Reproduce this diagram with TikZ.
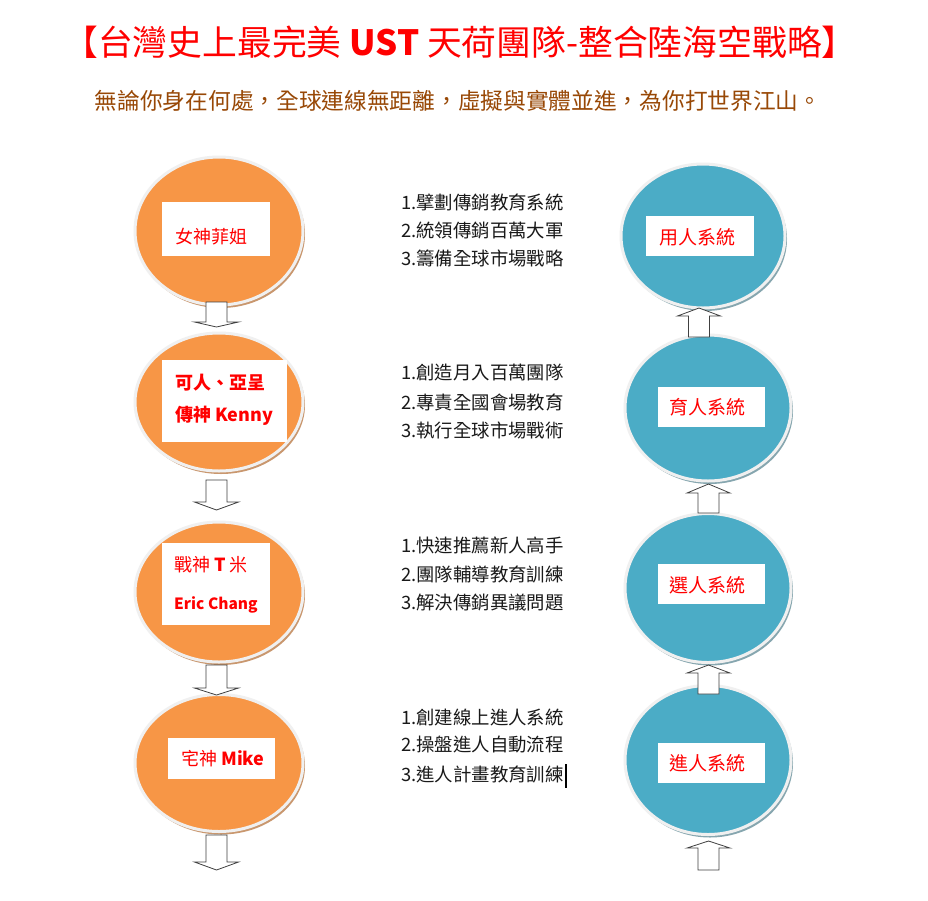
\documentclass[tikz,border=0pt]{standalone}
\usepackage{fontspec}
\setmainfont{Noto Sans CJK TC}
\usetikzlibrary{shapes.geometric,shadows}
\definecolor{orng}{HTML}{F79646}
\definecolor{blu}{HTML}{4BACC6}
\definecolor{oshadow}{HTML}{C9976E}
\definecolor{bshadow}{HTML}{86A6AF}
\definecolor{rim}{HTML}{F0F0F0}
\definecolor{brn}{HTML}{984806}
\definecolor{ttlred}{HTML}{FF0000}
\definecolor{arrline}{HTML}{404040}
\tikzset{
  circbase/.style={ellipse, draw=rim, line width=3pt, inner sep=0pt},
  ocirc/.style={circbase, fill=orng, drop shadow={shadow xshift=2pt, shadow yshift=-3pt, fill=oshadow, opacity=1}},
  bcirc/.style={circbase, fill=blu, drop shadow={shadow xshift=2pt, shadow yshift=-3pt, fill=bshadow, opacity=1}},
  wbox/.style={rectangle, fill=white, draw=none, inner sep=0pt},
  lbl/.style={anchor=west, inner sep=0pt, text=ttlred, font=\fontsize{18}{20}\selectfont},
  mid/.style={anchor=west, inner sep=0pt, text=black!90, font=\fontsize{18.4}{20}\selectfont},
  blk/.style={draw=arrline, fill=white, line width=0.8pt, line join=miter},
}
\newcommand{\blkdown}[4]{\draw[blk] ({#1-10.5},#2) -- ({#1+10.5},#2) -- ({#1+10.5},#3) -- ({#1+22},#3) -- (#1,#4) -- ({#1-22},#3) -- ({#1-10.5},#3) -- cycle;}
\newcommand{\blkup}[4]{\draw[blk] ({#1-10.5},#2) -- ({#1+10.5},#2) -- ({#1+10.5},#3) -- ({#1+21.5},#3) -- (#1,#4) -- ({#1-21.5},#3) -- ({#1-10.5},#3) -- cycle;}
\begin{document}
\begin{tikzpicture}[x=1pt,y=-1pt]
\useasboundingbox (0,0) rectangle (928,900);
\fill[white] (0,0) rectangle (928,900);
% title
\node[inner sep=0pt, text=ttlred, font=\fontsize{34.8}{38}\selectfont] (title) at (460,42) {【台灣史上最完美 \textbf{UST} 天荷團隊-整合陸海空戰略】};
\node[inner sep=0pt, text=brn, font=\fontsize{22.7}{25}\selectfont] (sub) at (458,101) {無論你身在何處，全球連線無距離，虛擬與實體並進，為你打世界江山。};
% orange circles
\node[ocirc, minimum width=168, minimum height=148] (o1) at (219,231) {};
\node[ocirc, minimum width=168, minimum height=138] (o2) at (219,402) {};
\node[ocirc, minimum width=168, minimum height=140] (o3) at (219,592) {};
\node[ocirc, minimum width=168, minimum height=137] (o4) at (219,763) {};
% blue circles
\node[bcirc, minimum width=164, minimum height=144] (b1) at (703,236) {};
\node[bcirc, minimum width=166, minimum height=146] (b2) at (708,408) {};
\node[bcirc, minimum width=166, minimum height=149] (b3) at (708,588) {};
\node[bcirc, minimum width=166, minimum height=149] (b4) at (708,760) {};
% white boxes
\node[wbox, minimum width=108, minimum height=54] (ob1) at (216,229) {};
\node[wbox, minimum width=125, minimum height=82] (ob2) at (224.5,401) {};
\node[wbox, minimum width=108, minimum height=82] (ob3) at (216,584) {};
\node[wbox, minimum width=107, minimum height=41] (ob4) at (221.5,758.5) {};
\node[wbox, minimum width=108, minimum height=40] (bb1) at (700,236) {};
\node[wbox, minimum width=107, minimum height=40] (bb2) at (711.5,407) {};
\node[wbox, minimum width=107, minimum height=40] (bb3) at (711.5,584) {};
\node[wbox, minimum width=107, minimum height=40] (bb4) at (711.5,763) {};
% labels
\node[lbl] (t1) at (175,237) {女神菲姐};
\node[lbl, font=\fontsize{18}{20}\selectfont\bfseries] (t2a) at (175,383) {可人、亞呈};
\node[lbl, font=\fontsize{18}{20}\selectfont\bfseries] (t2b) at (175,416) {傳神 Kenny};
\node[lbl] (t3a) at (174,565) {戰神 \textbf{T} 米};
\node[lbl, font=\fontsize{15.5}{18}\selectfont\bfseries] (t3b) at (174,605) {Eric Chang};
\node[lbl] (t4) at (181,759) {宅神 \textbf{Mike}};
\node[lbl, font=\fontsize{19}{21}\selectfont] (u1) at (659,237) {用人系統};
\node[lbl, font=\fontsize{19}{21}\selectfont] (u2) at (669,407) {育人系統};
\node[lbl, font=\fontsize{19}{21}\selectfont] (u3) at (669,585) {選人系統};
\node[lbl, font=\fontsize{19}{21}\selectfont] (u4) at (669,763) {進人系統};
% middle lists
\node[mid] (m11) at (401,202) {1.擘劃傳銷教育系統};
\node[mid] (m12) at (401,230) {2.統領傳銷百萬大軍};
\node[mid] (m13) at (401,258) {3.籌備全球市場戰略};
\node[mid] (m21) at (401,373) {1.創造月入百萬團隊};
\node[mid] (m22) at (401,402) {2.專責全國會場教育};
\node[mid] (m23) at (401,430) {3.執行全球市場戰術};
\node[mid] (m31) at (401,545) {1.快速推薦新人高手};
\node[mid] (m32) at (401,574) {2.團隊輔導教育訓練};
\node[mid] (m33) at (401,603) {3.解決傳銷異議問題};
\node[mid] (m41) at (401,717) {1.創建線上進人系統};
\node[mid] (m42) at (401,745) {2.操盤進人自動流程};
\node[mid] (m43) at (401,774) {3.進人計畫教育訓練};
\coordinate (cur1) at ([xshift=2pt]m43.east |- 0,764);
\coordinate (cur2) at ([xshift=2pt]m43.east |- 0,788);
\draw[black, line width=1.5pt] (cur1) -- (cur2);
% block arrows
\blkdown{216.5}{302}{322}{327}
\blkdown{216.5}{480}{502}{510}
\blkdown{216.5}{665}{688}{695}
\blkdown{216.5}{835}{862}{870}
\blkup{699}{337}{316}{308}
\blkup{708.5}{513}{493}{484}
\blkup{708.5}{694}{673}{665}
\blkup{708.5}{870}{848}{841}
\end{tikzpicture}
\end{document}
